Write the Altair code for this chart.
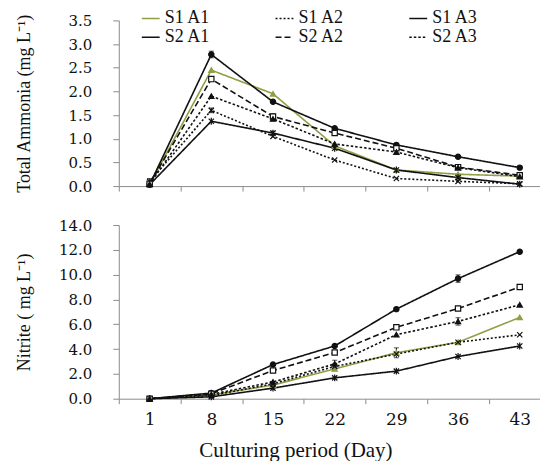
import altair as alt
import pandas as pd

days = [1, 8, 15, 22, 29, 36, 43]
series = ["S1 A1", "S1 A2", "S1 A3", "S2 A1", "S2 A2", "S2 A3"]

ammonia_s1a1 = [0.03, 2.45, 1.95, 0.85, 0.34, 0.25, 0.21]
ammonia_s1a2 = [0.10, 1.60, 1.05, 0.55, 0.16, 0.10, 0.05]
ammonia_s1a3 = [0.03, 1.37, 1.12, 0.80, 0.34, 0.18, 0.04]
ammonia_s2a1 = [0.03, 2.78, 1.78, 1.22, 0.87, 0.62, 0.39]
ammonia_s2a2 = [0.05, 2.26, 1.47, 1.12, 0.80, 0.40, 0.23]
ammonia_s2a3 = [0.04, 1.90, 1.42, 0.89, 0.72, 0.39, 0.20]

nitrite_s1a1 = [0.0, 0.30, 1.10, 2.40, 3.70, 4.55, 6.55]
nitrite_s1a2 = [0.0, 0.25, 1.20, 2.60, 3.60, 4.55, 5.15]
nitrite_s1a3 = [0.0, 0.15, 0.85, 1.68, 2.22, 3.40, 4.25]
nitrite_s2a1 = [0.0, 0.45, 2.75, 4.25, 7.22, 9.68, 11.85]
nitrite_s2a2 = [0.0, 0.40, 2.27, 3.72, 5.75, 7.27, 9.00]
nitrite_s2a3 = [0.0, 0.35, 1.35, 2.80, 5.16, 6.23, 7.57]

# visible error bars: (series, day, half-width)
ammonia_err = [("S2 A1", 8, 0.07), ("S1 A2", 1, 0.06), ("S2 A2", 15, 0.06),
               ("S1 A2", 8, 0.05), ("S1 A3", 15, 0.04)]
nitrite_err = [("S1 A1", 29, 0.40), ("S2 A1", 36, 0.30), ("S2 A3", 36, 0.30),
               ("S2 A3", 22, 0.30), ("S2 A2", 43, 0.15)]

ammonia_ticks = [0, 0.5, 1.0, 1.5, 2.0, 2.5, 3.0, 3.5]
nitrite_ticks = [0, 2, 4, 6, 8, 10, 12, 14]
x_boundaries = [-2.5, 4.5, 11.5, 18.5, 25.5, 32.5, 39.5]

FONT = "Liberation Serif"
TICK_FONT = "DejaVu Serif"
AXIS_GREY = "#8c8c8c"
INK = "#111111"
line_colors = ["#8f9f45", INK, INK, INK, INK, INK]
fill_colors = ["#8f9f45", "#ffffff", INK, INK, "#ffffff", INK]
dashes = [[1, 0], [2, 2], [1, 0], [1, 0], [6, 3], [2.5, 2]]
XPATH = "M-1,-1L1,1M-1,1L1,-1"
STAR = "M-1,-1L1,1M-1,1L1,-1M0,-1.3L0,1.3"
shapes = ["triangle-up", XPATH, STAR, "circle", "square", "triangle-up"]
markers = ["m " + s for s in series]


def long_df(vals):
    rows = []
    for s, m, v in zip(series, markers, vals):
        for d, y in zip(days, v):
            rows.append({"series": s, "marker": m, "day": d, "value": y})
    return pd.DataFrame(rows)


def err_df(df, errs):
    rows = []
    for s, d, e in errs:
        v = df[(df.series == s) & (df.day == d)].value.iloc[0]
        rows.append({"series": s, "day": d, "lo": v - e, "hi": v + e})
    return pd.DataFrame(rows)


amm = long_df([ammonia_s1a1, ammonia_s1a2, ammonia_s1a3,
               ammonia_s2a1, ammonia_s2a2, ammonia_s2a3])
nit = long_df([nitrite_s1a1, nitrite_s1a2, nitrite_s1a3,
               nitrite_s2a1, nitrite_s2a2, nitrite_s2a3])

xvals = sorted(days + x_boundaries)
xscale = alt.Scale(domain=[-2.5, 45.3], nice=False, zero=False)
color_scale = alt.Scale(domain=series, range=line_colors)
dash_scale = alt.Scale(domain=series, range=dashes)
mstroke_scale = alt.Scale(domain=markers, range=line_colors)
fill_scale = alt.Scale(domain=markers, range=fill_colors)
shape_scale = alt.Scale(domain=markers, range=shapes)


def panel(df, errs, ytitle, yticks, height, bottom, legend):
    xaxis_kwargs = dict(
        values=xvals,
        tickOpacity={"condition": {"test": "datum.value % 7 === 1", "value": 0}, "value": 1},
        tickSize=5, tickColor=AXIS_GREY, domainColor=AXIS_GREY, grid=False,
    )
    if bottom:
        xaxis = alt.Axis(
            title="Culturing period (Day)",
            labelExpr="datum.value % 7 === 1 ? datum.label : ''",
            labelFont=TICK_FONT, labelFontSize=17, labelColor=INK, labelPadding=8,
            labelFlush=False, labelOverlap=False,
            titleFont=FONT, titleFontSize=21, titleFontWeight="normal", titleColor=INK,
            titleX=177, titleY=41, titleBaseline="top", titleAnchor="middle",
            **xaxis_kwargs)
    else:
        xaxis = alt.Axis(title=None, labels=False, **xaxis_kwargs)

    yaxis = alt.Axis(
        values=yticks, format=".1f", title=ytitle, grid=False,
        tickSize=6, tickColor=AXIS_GREY, domainColor=AXIS_GREY,
        labelFont=TICK_FONT, labelFontSize=15, labelColor=INK, labelPadding=21,
        titleFont=FONT, titleFontSize=18, titleFontWeight="normal", titleColor=INK,
        titleX=-94, titleBaseline="middle",
    )
    yscale = alt.Scale(domain=[yticks[0], yticks[-1]], nice=False)

    if legend:
        leg = alt.Legend(
            orient="none", legendX=22, legendY=-12, direction="horizontal",
            columns=3, title=None, symbolType="stroke", symbolSize=320,
            symbolStrokeWidth=1.5, labelFont=FONT, labelFontSize=18,
            labelColor=INK, columnPadding=62, rowPadding=0, labelOffset=4,
            padding=0,
        )
    else:
        leg = None

    X = alt.X("day:Q", scale=xscale, axis=xaxis)

    lines = alt.Chart(df).mark_line(strokeWidth=1.6).encode(
        x=X,
        y=alt.Y("value:Q", scale=yscale, axis=yaxis),
        color=alt.Color("series:N", scale=color_scale, legend=leg, sort=series),
        strokeDash=alt.StrokeDash("series:N", scale=dash_scale, legend=leg, sort=series),
        detail="series:N",
    )
    points = alt.Chart(df).mark_point(filled=True, size=28, strokeWidth=1.2, opacity=1).encode(
        x=X,
        y=alt.Y("value:Q", scale=yscale, axis=yaxis),
        fill=alt.Fill("marker:N", scale=fill_scale, legend=None),
        stroke=alt.Stroke("marker:N", scale=mstroke_scale, legend=None),
        shape=alt.Shape("marker:N", scale=shape_scale, legend=None),
    )
    edf = err_df(df, errs)
    bars = alt.Chart(edf).mark_rule(strokeWidth=1, color=INK).encode(
        x=X,
        y=alt.Y("lo:Q", scale=yscale, axis=yaxis),
        y2="hi:Q",
    )
    cap_lo = alt.Chart(edf).mark_tick(thickness=1, size=5, color=INK, orient="horizontal").encode(
        x=X,
        y=alt.Y("lo:Q", scale=yscale, axis=yaxis),
    )
    cap_hi = alt.Chart(edf).mark_tick(thickness=1, size=5, color=INK, orient="horizontal").encode(
        x=X,
        y=alt.Y("hi:Q", scale=yscale, axis=yaxis),
    )
    return alt.layer(lines, bars, cap_lo, cap_hi, points).properties(width=422, height=height)


top = panel(amm, ammonia_err, "Total Ammonia (mg L\u207b\u00b9)", ammonia_ticks, 166, False, True)
bottom = panel(nit, nitrite_err, "Nitrite ( mg L\u207b\u00b9)", nitrite_ticks, 174, True, False)

chart = alt.vconcat(top, bottom, spacing=24).resolve_scale(
    color="independent", strokeDash="independent", fill="independent",
    stroke="independent", shape="independent",
).properties(
    padding={"left": 7, "top": 0, "right": 0, "bottom": 0},
    background="white",
).configure(
    font=FONT,
).configure_view(
    stroke=None
).configure_axis(
    labelFont=TICK_FONT, titleFont=FONT
).configure_legend(
    labelFont=FONT
)

chart.save("out.html", embed_options={"renderer": "svg", "actions": False})
